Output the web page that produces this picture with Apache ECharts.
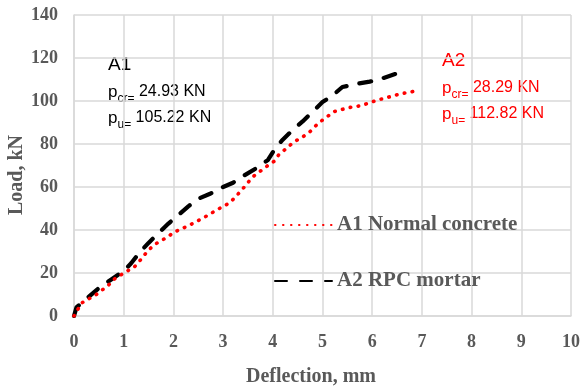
<!DOCTYPE html>
<html>
<head>
<meta charset="utf-8">
<script src="https://cdn.jsdelivr.net/npm/echarts@6/dist/echarts.min.js"></script>
<style>
  html, body { margin: 0; padding: 0; background: #fff; }
  #chart { width: 583px; height: 389px; }
</style>
</head>
<body>
<div id="chart"></div>
<script>
// Load–deflection curves of the two beams
const seriesNames = ['A1 Normal concrete', 'A2 RPC mortar'];

const deflectionA1 = [0, 0.15, 0.3, 0.45, 0.7, 0.8, 1.05, 1.2, 1.3, 1.4, 1.6, 1.75, 1.9, 2.0, 2.3, 2.6, 2.85, 3.0, 3.13, 3.25, 3.35, 3.45, 3.55, 3.65, 3.8, 3.9, 4.03, 4.12, 4.25, 4.36, 4.5, 4.62, 4.75, 4.87, 4.98, 5.1, 5.22, 5.38, 5.55, 5.7, 5.85, 6.0, 6.15, 6.3, 6.45, 6.6, 6.75, 6.95];
const loadA1 = [0, 6, 8, 10, 14.5, 17, 20.7, 22.5, 24.93, 28, 33, 35, 37, 38.8, 42, 45.6, 49, 51, 52.6, 55.4, 58, 60.6, 63.5, 65.8, 68.2, 70, 72, 75, 77.5, 79.7, 82, 83.6, 85.8, 88.6, 90.8, 92.8, 95, 96, 97, 97.5, 98.4, 99.6, 100.7, 101.6, 102.6, 103.5, 104, 105.22];

const deflectionA2 = [0, 0.05, 0.3, 0.5, 0.75, 1.0, 1.15, 1.3, 1.5, 1.7, 1.9, 2.1, 2.3, 2.5, 2.75, 3.0, 3.2, 3.4, 3.65, 3.9, 4.05, 4.2, 4.4, 4.6, 4.8, 5.0, 5.2, 5.4, 5.7, 5.95, 6.2, 6.5];
const loadA2 = [0, 4, 9, 13, 17, 21, 24.5, 29, 34, 38.5, 43, 47, 51, 54.5, 57, 60, 62, 65, 68.5, 72.5, 78, 82, 86.5, 90.5, 95, 99.5, 102.5, 106.5, 108, 109, 110.5, 112.82];

// Cracking and ultimate loads quoted beside each curve
const specimenA1 = { name: 'A1', pcr: '24.93 KN', pu: '105.22 KN' };
const specimenA2 = { name: 'A2', pcr: '28.29 KN', pu: '112.82 KN' };

const xTicks = { min: 0, max: 10, interval: 1 };
const yTicks = { min: 0, max: 140, interval: 20 };

const pairs = (xs, ys) => xs.map((x, i) => [x, ys[i]]);

const axisGray = '#595959';
const gridGray = '#d9d9d9';
const serif = '"Liberation Serif", "Times New Roman", serif';
const sans = '"Liberation Sans", Arial, sans-serif';

function specimenText(s) {
  return '{t|' + s.name + '}\n{p|p}{s|cr=}{v| ' + s.pcr + '}\n{p|p}{s|u=}{v| ' + s.pu + '}';
}
function specimenRich(color) {
  return {
    t: { fontFamily: sans, fontSize: 19, fill: color, lineHeight: 29 },
    p: { fontFamily: sans, fontSize: 17, fill: color, lineHeight: 26 },
    s: { fontFamily: sans, fontSize: 12, fill: color, verticalAlign: 'bottom', lineHeight: 26 },
    v: { fontFamily: sans, fontSize: 16, fill: color, lineHeight: 26 }
  };
}

const chart = echarts.init(document.getElementById('chart'), null, { renderer: 'canvas' });
chart.setOption({
  animation: false,
  backgroundColor: '#fff',
  grid: { left: 74, right: 11, top: 15, bottom: 73, containLabel: false },
  xAxis: {
    type: 'value', min: xTicks.min, max: xTicks.max, interval: xTicks.interval,
    axisLine: { show: true, lineStyle: { color: gridGray, width: 1.5 } },
    axisTick: { show: false },
    axisLabel: { color: axisGray, fontFamily: serif, fontWeight: 'bold', fontSize: 18, margin: 17 },
    splitLine: { show: true, lineStyle: { color: gridGray, width: 1.5 } }
  },
  yAxis: {
    type: 'value', min: yTicks.min, max: yTicks.max, interval: yTicks.interval,
    axisLine: { show: true, lineStyle: { color: gridGray, width: 1.5 } },
    axisTick: { show: false },
    axisLabel: { color: axisGray, fontFamily: serif, fontWeight: 'bold', fontSize: 18, margin: 16 },
    splitLine: { show: true, lineStyle: { color: gridGray, width: 1.5 } }
  },
  legend: {
    orient: 'vertical', left: 274, top: 213, itemGap: 32, padding: 0,
    itemWidth: 57, itemHeight: 14,
    data: seriesNames,
    itemStyle: { color: 'rgba(0,0,0,0)', borderWidth: 0, opacity: 0 },
    textStyle: { color: axisGray, fontFamily: serif, fontWeight: 'bold', fontSize: 21, lineHeight: 24 }
  },
  series: [
    {
      name: seriesNames[0], type: 'line', data: pairs(deflectionA1, loadA1),
      showSymbol: false, symbol: 'none', smooth: false,
      lineStyle: { color: '#ff0000', width: 3.6, type: [0.5, 7.5], cap: 'round' },
      itemStyle: { color: '#ff0000' }, z: 3
    },
    {
      name: seriesNames[1], type: 'line', data: pairs(deflectionA2, loadA2),
      showSymbol: false, symbol: 'none', smooth: false,
      lineStyle: { color: '#000000', width: 4.2, type: [12, 13], cap: 'round' },
      itemStyle: { color: '#000000' }, z: 2
    }
  ],
  graphic: [
    {
      type: 'text', left: 108, top: 55,
      style: { text: specimenText(specimenA1), rich: specimenRich('#000000') }
    },
    {
      type: 'text', left: 442, top: 51,
      style: { text: specimenText(specimenA2), rich: specimenRich('#ff0000') }
    },
    {
      type: 'text', left: 246, top: 367,
      style: { text: 'Deflection, mm', fill: axisGray, font: 'bold 20px ' + serif }
    },
    {
      type: 'text', left: 7, top: 135, rotation: Math.PI / 2,
      style: { text: 'Load, kN', fill: axisGray, font: 'bold 20px ' + serif }
    }
  ]
});
</script>
</body>
</html>
